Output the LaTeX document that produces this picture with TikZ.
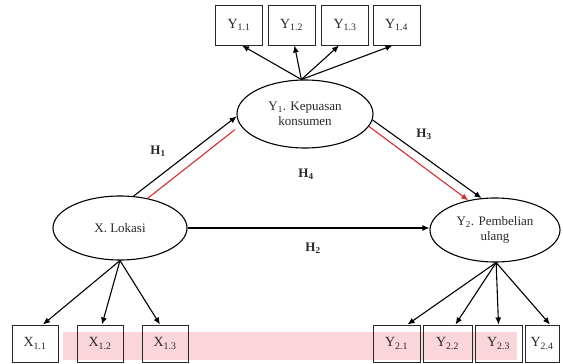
\documentclass[tikz,border=0pt]{standalone}
\usepackage{fontspec}
\setmainfont{Liberation Serif}
\usetikzlibrary{arrows.meta,shapes.geometric}
\definecolor{bandpink}{RGB}{250,214,218}
\definecolor{hred}{RGB}{215,45,45}
\definecolor{ink}{RGB}{40,40,40}
\begin{document}
\begin{tikzpicture}[x=1pt,y=-1pt,
  box/.style={draw=ink, line width=1pt, minimum width=47pt, minimum height=38pt, inner sep=0pt, font=\fontsize{14}{16}\selectfont, text=ink},
  lat/.style={ellipse, draw=black, line width=1.1pt, inner sep=0pt, align=center, font=\fontsize{13}{15}\selectfont, text=ink},
  arr/.style={line width=1.1pt, -{Latex[length=7pt,width=6pt]}},
  redln/.style={hred, line width=1.1pt},
  hyp/.style={font=\bfseries\fontsize{13}{15}\selectfont, text=ink}]
\useasboundingbox (0,0) rectangle (563,364);
\fill[white] (0,0) rectangle (563,364);
% pink band
\fill[bandpink] (63,332) rectangle (517,360);
% latent variables
\node[lat, minimum width=134pt, minimum height=64pt] (X) at (120,228) {X. Lokasi};
\node[lat, minimum width=136pt, minimum height=68pt] (Y1) at (305,114) {Y\textsubscript{1}. Kepuasan\\konsumen};
\node[lat, minimum width=130pt, minimum height=64pt] (Y2) at (495,230) {Y\textsubscript{2}. Pembelian\\ulang};
% indicator boxes top
\node[box, minimum height=40pt] (Y11) at (239,25) {Y\textsubscript{1.1}};
\node[box, minimum height=40pt] (Y12) at (291.5,25) {Y\textsubscript{1.2}};
\node[box, minimum height=40pt] (Y13) at (345,25) {Y\textsubscript{1.3}};
\node[box, minimum height=40pt] (Y14) at (396.5,25) {Y\textsubscript{1.4}};
% indicator boxes bottom
\node[box, minimum width=46pt, minimum height=37pt] (X11) at (35,343.5) {X\textsubscript{1.1}};
\node[box, minimum width=46pt, minimum height=37pt] (X12) at (100,343.5) {X\textsubscript{1.2}};
\node[box, minimum width=46pt, minimum height=37pt] (X13) at (165,343.5) {X\textsubscript{1.3}};
\node[box, minimum width=47pt, minimum height=37pt] (Y21) at (396.5,343.5) {Y\textsubscript{2.1}};
\node[box, minimum width=49pt, minimum height=37pt] (Y22) at (447.5,343.5) {Y\textsubscript{2.2}};
\node[box, minimum width=47pt, minimum height=37pt] (Y23) at (498.5,343.5) {Y\textsubscript{2.3}};
\node[box, minimum width=34pt, minimum height=37pt] (Y24) at (542,343.5) {Y\textsubscript{2.4}};
% Y1 indicators
\draw[arr] (Y1.96) -- ([xshift=3pt]Y11.south);
\draw[arr] (Y1.96) -- ([xshift=3pt]Y12.south);
\draw[arr] (Y1.96) -- ([xshift=-6pt]Y13.south);
\draw[arr] (Y1.96) -- ([xshift=-4pt]Y14.south);
% X indicators
\draw[arr] (X.south) -- ([xshift=8pt]X11.north);
\draw[arr] (X.south) -- ([xshift=2pt]X12.north);
\draw[arr] (X.south) -- ([xshift=-5pt]X13.north);
% Y2 indicators
\draw[arr] (Y2.272) -- ([xshift=11pt]Y21.north);
\draw[arr] (Y2.272) -- ([xshift=8pt]Y22.north);
\draw[arr] (Y2.272) -- (Y23.north);
\draw[arr] (Y2.272) -- ([xshift=8pt]Y24.north);
% H1
\draw[arr] (X.67) -- (Y1.182);
\draw[redln, shorten >=7pt] (X.47) -- (Y1.190);
% H3
\draw[arr] (Y1.-5) -- (Y2.113);
\draw[redln, -{Latex[length=7pt,width=6pt]}] (Y1.-11) -- (Y2.132);
% H2
\draw[arr] (X.east) -- (X.east -| Y2.west);
% labels
\node[hyp] (h1) at (158,151) {H\textsubscript{1}};
\node[hyp] (h3) at (424,134) {H\textsubscript{3}};
\node[hyp] (h4) at (306,174) {H\textsubscript{4}};
\node[hyp] (h2) at (313,248) {H\textsubscript{2}};
\end{tikzpicture}
\end{document}
